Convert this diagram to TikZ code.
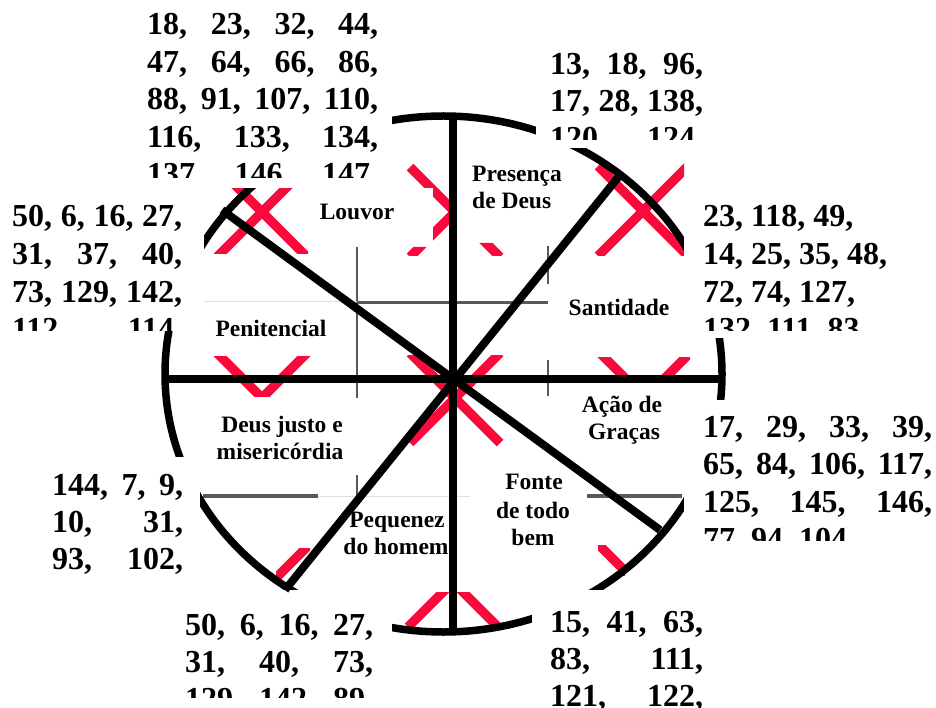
\documentclass[tikz,border=0pt]{standalone}
\usepackage{fontspec}
\setmainfont{Liberation Serif}
\definecolor{xred}{RGB}{250,10,60}
\newcommand\jline[2]{\makebox[#1][s]{#2}}
\begin{document}
\begin{tikzpicture}[x=1pt,y=-1pt,
  numtxt/.style={inner sep=0pt,anchor=base west,font=\fontsize{32}{37}\selectfont\bfseries},
  lbl/.style={inner sep=0pt,anchor=base,font=\fontsize{23.5}{28}\selectfont\bfseries},
  spoke/.style={line width=8pt,draw=black},
  rim/.style={line width=7.5pt,draw=black},
  redx/.style={line width=9.5pt,draw=xred},
  gdark/.style={line width=2.5pt,draw=black!65},
  glight/.style={line width=1pt,draw=black!12},
  mask/.style={fill=white,draw=none},
  redcross/.pic={\draw[redx] (-45,-45) -- (45,45) (-45,45) -- (45,-45);}
]
\useasboundingbox (0,0) rectangle (936,708);
\fill[white] (0,0) rectangle (936,708);

% red crosses (visible parts only)
\begin{scope}\clip (205,188) rectangle (308,254); \pic at (262,212) {redcross};\end{scope}
\begin{scope}\clip (405,160) rectangle (433,188) (433,160) rectangle (452,255) (405,247) rectangle (433,256) (478,243) rectangle (505,256); \pic at (455,212) {redcross};\end{scope}
\begin{scope}\clip (595,150) rectangle (684,256); \pic at (643,211) {redcross};\end{scope}
\begin{scope}\clip (210,356) rectangle (315,396); \pic at (262,398) {redcross};\end{scope}
\begin{scope}\clip (405,355) rectangle (505,450); \pic at (455,398) {redcross};\end{scope}
\begin{scope}\clip (595,357) rectangle (690,382); \pic at (645,398) {redcross};\end{scope}
\begin{scope}\clip (276,548) rectangle (310,580); \pic at (272,582) {redcross};\end{scope}
\begin{scope}\clip (400,592) rectangle (505,632); \pic at (453,582) {redcross};\end{scope}
\begin{scope}\clip (598,545) rectangle (625,575); \pic at (636,582) {redcross};\end{scope}

% grid lines
\draw[gdark,line width=2pt] (357,247) -- (357,398) (357,475) -- (357,497);
\draw[gdark,line width=2pt] (548,246) -- (548,284) (548,360) -- (548,396);
\draw[gdark,line width=3pt] (357,303) -- (548,303);
\draw[glight] (203,302) -- (357,302);
\draw[gdark,line width=3.5pt] (203,496) -- (318,496) (587,496) -- (682,496);
\draw[glight] (318,496) -- (470,496);

% rim
\coordinate (EC) at (443.5,374);
\draw[rim] (EC) ellipse [x radius=278.5pt, y radius=258pt];

% white number boxes hiding parts of the rim
\fill[mask] (130,0) rectangle (392,188);
\fill[mask] (536,40) rectangle (706,148);
\fill[mask] (0,188) rectangle (204,331);
\fill[mask] (684,188) rectangle (936,338);
\fill[mask] (684,400) rectangle (936,545);
\fill[mask] (40,457) rectangle (200,578);
\fill[mask] (175,590) rectangle (392,708);
\fill[mask] (532,590) rectangle (706,708);

% spokes
\coordinate (O) at (453,379);
\coordinate (N) at (453,116);
\coordinate (S) at (453,632);
\coordinate (W) at (165,379);
\coordinate (E) at (721,379);
\coordinate (NW) at (222,210);
\coordinate (SE) at (660,530);
\coordinate (NE) at (620,175);
\coordinate (SW) at (285,590);
\draw[spoke] (N) -- (S);
\draw[spoke] (W) -- (E);
\draw[spoke] (NW) -- (SE);
\draw[spoke] (NE) -- (SW);

% number blocks
\begin{scope}\clip (130,0) rectangle (392,178);
\node[numtxt] (A1) at (147,35) {\jline{231pt}{18, 23, 32, 44,}};
\node[numtxt] (A2) at (147,72.5) {\jline{231pt}{47, 64, 66, 86,}};
\node[numtxt] (A3) at (147,110) {\jline{231pt}{88, 91, 107, 110,}};
\node[numtxt] (A4) at (147,147.5) {\jline{231pt}{116, 133, 134,}};
\node[numtxt] (A5) at (147,185) {\jline{231pt}{137, 146, 147,}};
\end{scope}
\begin{scope}\clip (536,40) rectangle (706,140);
\node[numtxt] (B1) at (550,75) {\jline{153pt}{13, 18, 96,}};
\node[numtxt] (B2) at (550,112) {\jline{153pt}{17, 28, 138,}};
\node[numtxt] (B3) at (550,149) {\jline{153pt}{120, 124,}};
\end{scope}
\begin{scope}\clip (0,188) rectangle (204,330);
\node[numtxt] (C1) at (12,227) {\jline{170pt}{50, 6, 16, 27,}};
\node[numtxt] (C2) at (12,264.5) {\jline{170pt}{31, 37, 40,}};
\node[numtxt] (C3) at (12,302) {\jline{170pt}{73, 129, 142,}};
\node[numtxt] (C4) at (12,339.5) {\jline{170pt}{112, 114,}};
\end{scope}
\begin{scope}\clip (684,188) rectangle (936,330);
\node[numtxt] (D1) at (703,227) {23, 118, 49,};
\node[numtxt] (D2) at (703,264.5) {14, 25, 35, 48,};
\node[numtxt] (D3) at (703,302) {72, 74, 127,};
\node[numtxt] (D4) at (703,339.5) {132, 111, 83};
\end{scope}
\begin{scope}\clip (684,400) rectangle (936,540);
\node[numtxt] (E1) at (703,437) {\jline{229pt}{17, 29, 33, 39,}};
\node[numtxt] (E2) at (703,474.5) {\jline{229pt}{65, 84, 106, 117,}};
\node[numtxt] (E3) at (703,512) {\jline{229pt}{125, 145, 146,}};
\node[numtxt] (E4) at (703,549.5) {77, 94, 104};
\end{scope}
\begin{scope}\clip (40,457) rectangle (200,578);
\node[numtxt] (F1) at (52,495) {\jline{131pt}{144, 7, 9,}};
\node[numtxt] (F2) at (52,532) {\jline{131pt}{10, 31,}};
\node[numtxt] (F3) at (52,569) {\jline{131pt}{93, 102,}};
\end{scope}
\begin{scope}\clip (175,590) rectangle (392,697);
\node[numtxt] (G1) at (185,635) {\jline{188pt}{50, 6, 16, 27,}};
\node[numtxt] (G2) at (185,672) {\jline{188pt}{31, 40, 73,}};
\node[numtxt] (G3) at (185,709) {\jline{188pt}{129, 142, 89,}};
\end{scope}
\begin{scope}\clip (532,590) rectangle (706,708);
\node[numtxt] (H1) at (550,632) {\jline{153pt}{15, 41, 63,}};
\node[numtxt] (H2) at (550,669) {\jline{153pt}{83, 111,}};
\node[numtxt] (H3) at (550,706) {\jline{153pt}{121, 122,}};
\end{scope}

% sector labels
\node[lbl] (louvor) at (357,220) {Louvor};
\node[lbl,anchor=base west] (pres1) at (472,182) {Presença};
\node[lbl,anchor=base west] (pres2) at (472,209) {de Deus};
\node[lbl] (sant) at (619,316) {Santidade};
\node[lbl] (peni) at (271,336) {Penitencial};
\node[lbl] (acao1) at (622,412) {Ação de};
\node[lbl] (acao2) at (624,439) {Graças};
\node[lbl] (deus1) at (282,432) {Deus justo e};
\node[lbl] (deus2) at (280,459) {misericórdia};
\node[lbl] (fonte1) at (534,489) {Fonte};
\node[lbl] (fonte2) at (533,518) {de todo};
\node[lbl] (fonte3) at (533,545) {bem};
\node[lbl] (peq1) at (397,527) {Pequenez};
\node[lbl] (peq2) at (396,554) {do homem};
\end{tikzpicture}
\end{document}
